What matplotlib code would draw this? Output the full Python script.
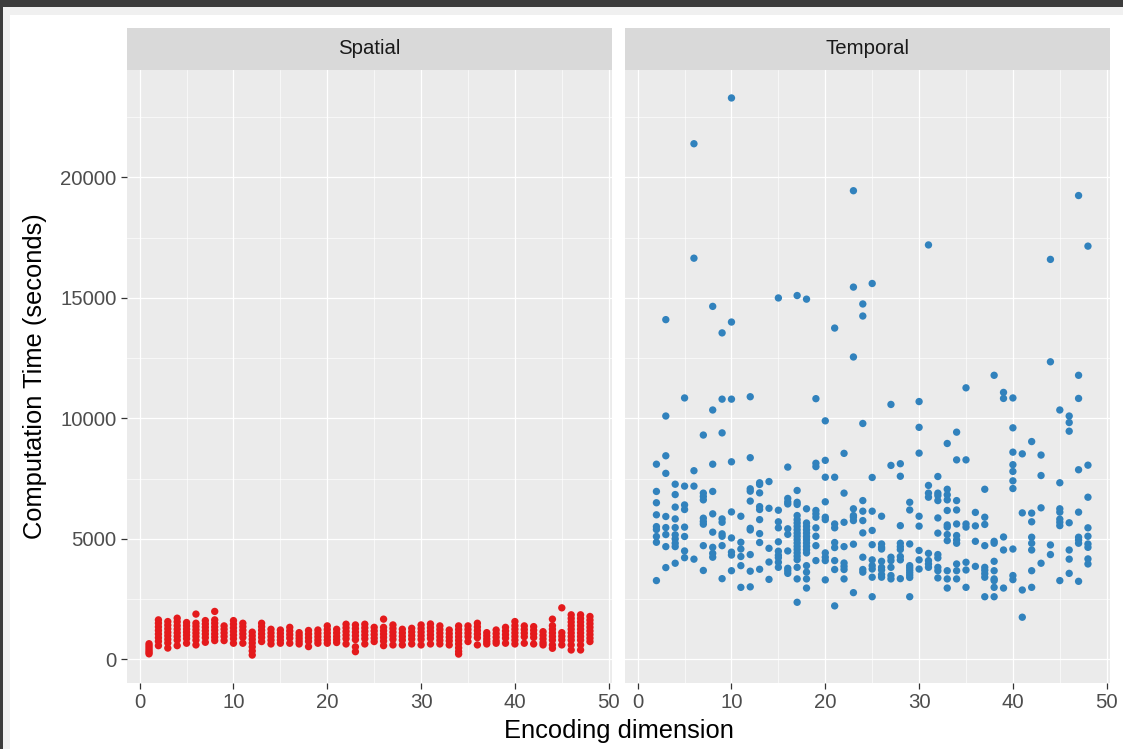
import matplotlib
matplotlib.use("Agg")
import matplotlib.pyplot as plt
from matplotlib.patches import Rectangle

plt.rcParams['font.family'] = ['Liberation Sans', 'DejaVu Sans']

# ---------------- data ----------------
panel_titles = ["Spatial", "Temporal"]
x_title = "Encoding dimension"
y_title = "Computation Time (seconds)"
x_ticks = [0, 10, 20, 30, 40, 50]
x_minor = [5, 15, 25, 35, 45]
y_ticks = [0, 5000, 10000, 15000, 20000]
y_minor = [2500, 7500, 12500, 17500, 22500]

spatial_dims = [1, 2, 3, 4, 5, 6, 7, 8, 9, 10, 11, 12, 13, 14, 15, 16,
                17, 18, 19, 20, 21, 22, 23, 24, 25, 26, 27, 28, 29, 30, 31, 32,
                33, 34, 35, 36, 37, 38, 39, 40, 41, 42, 43, 44, 45, 46, 47, 48]
spatial_times = [
    [650, 560, 470, 380, 300, 230],
    [1640, 1500, 1350, 1200, 1050, 900, 750, 570],
    [1570, 1420, 1270, 1120, 980, 830, 680, 470],
    [1710, 1560, 1400, 1250, 1100, 950, 800, 570],
    [1530, 1400, 1260, 1130, 1000, 860, 670],
    [1880, 1500, 1370, 1230, 1090, 950, 800, 600],
    [1610, 1470, 1330, 1190, 1050, 900, 710],
    [1990, 1640, 1500, 1350, 1210, 1060, 920, 780],
    [1390, 1250, 1100, 950, 780],
    [1610, 1460, 1310, 1160, 1010, 860, 670],
    [1500, 1360, 1210, 1060, 910, 670],
    [1130, 980, 830, 680, 520, 350, 180],
    [1500, 1360, 1210, 1060, 910, 740],
    [1250, 1100, 950, 800, 640],
    [1220, 1080, 940, 800, 670],
    [1330, 1180, 1030, 880, 670],
    [1110, 990, 870, 750, 640],
    [1200, 1050, 900, 750, 530],
    [1220, 1080, 940, 800, 670],
    [1390, 1240, 1090, 940, 800, 670],
    [1250, 1100, 950, 820, 700],
    [1460, 1310, 1160, 1010, 860, 640],
    [1430, 1280, 1130, 980, 820, 520, 320],
    [1460, 1310, 1160, 1010, 860, 640],
    [1330, 1180, 1030, 880, 740],
    [1670, 1330, 1190, 1050, 910, 760, 570],
    [1430, 1280, 1130, 980, 830, 600],
    [1250, 1100, 950, 800, 600],
    [1290, 1140, 990, 840, 640],
    [1430, 1280, 1130, 980, 830, 600],
    [1470, 1320, 1170, 1020, 870, 640],
    [1390, 1240, 1090, 940, 790, 640],
    [1220, 1070, 920, 770, 600],
    [1390, 1240, 1090, 940, 790, 640, 480, 330, 220],
    [1390, 1240, 1090, 940, 740],
    [1500, 1350, 1200, 1050, 900, 600],
    [1110, 980, 850, 740, 640],
    [1220, 1070, 920, 770, 670],
    [1330, 1180, 1030, 880, 670],
    [1570, 1400, 1250, 1100, 950, 800, 640],
    [1390, 1240, 1090, 940, 670],
    [1360, 1210, 1060, 910, 640],
    [1150, 1000, 850, 700, 600],
    [1670, 1400, 1250, 1100, 950, 800, 600, 460],
    [2140, 1110, 960, 810, 600],
    [1850, 1700, 1550, 1400, 1250, 1100, 950, 800, 600, 390],
    [1850, 1700, 1550, 1400, 1250, 1100, 950, 800, 600, 390],
    [1780, 1630, 1480, 1330, 1180, 1030, 880, 740],
]

temporal_dims = [2, 3, 4, 5, 6, 7, 8, 9, 10, 11, 12, 13, 14, 15, 16, 17,
                 18, 19, 20, 21, 22, 23, 24, 25, 26, 27, 28, 29, 30, 31, 32,
                 33, 34, 35, 36, 37, 38, 39, 40, 41, 42, 43, 44, 45, 46, 47, 48]
temporal_times = [
    [8100, 6970, 6500, 6000, 5510, 5390, 5100, 4860, 3270],
    [14100, 10100, 8450, 7720, 5930, 5470, 5180, 4680, 3810],
    [7270, 6840, 6320, 5830, 5470, 5170, 5000, 4820, 4680, 3990],
    [10850, 7190, 6410, 6220, 5490, 5100, 4500, 4220],
    [21400, 16650, 7830, 7190, 4160],
    [9310, 6900, 6760, 6620, 5860, 5720, 5610, 4720, 3690],
    [14650, 10350, 8100, 6970, 6040, 5280, 4650, 4400, 4240],
    [13550, 10800, 9400, 5830, 5690, 5210, 5110, 4720, 3350],
    [23300, 14000, 10800, 8200, 6120, 5040, 4450, 4330, 3680],
    [5940, 4860, 4580, 4270, 3890, 2990],
    [10900, 8370, 7080, 6980, 6570, 5440, 5370, 4350, 3660, 3010],
    [7330, 7260, 6910, 6340, 6220, 5800, 5220, 4850, 3740],
    [7380, 6270, 4610, 4040, 3320],
    [15000, 6190, 5710, 5460, 4880, 4490, 4320, 4220, 4030, 3820],
    [7980, 6680, 6540, 6450, 5420, 5190, 4500, 3780, 3680, 3570],
    [15100, 7010, 6520, 6430, 5970, 5800, 5660, 5520, 5380, 5240, 5110,
     4970, 4830, 4690, 4560, 4420, 4280, 4140, 3820, 3340, 2370],
    [14950, 6250, 5660, 5520, 5380, 5240, 5100, 4970, 4830, 4690, 4550,
     4420, 3890, 3620, 3340, 2960],
    [10820, 8140, 8000, 6180, 6040, 5900, 5460, 5110, 4720, 4100],
    [9900, 8260, 7560, 6540, 5900, 5800, 4420, 4240, 4100, 3300],
    [13750, 7560, 5620, 5460, 4850, 4640, 4100, 3730, 2220],
    [8550, 6900, 5690, 4680, 4000, 3860, 3730, 3340],
    [19450, 15450, 12550, 6250, 5970, 5900, 5760, 4780, 2770],
    [14750, 14250, 9790, 6590, 6150, 5760, 5250, 4240, 3730, 3620],
    [15600, 7550, 6150, 5350, 4760, 4130, 3890, 3750, 3410, 2600],
    [5940, 4790, 4650, 4580, 4070, 3820, 3710, 3520, 3410],
    [10580, 8050, 4240, 4100, 3820, 3480, 3340],
    [8120, 7600, 5550, 4820, 4680, 4560, 4270, 4130, 3350],
    [6520, 6200, 4790, 3890, 3800, 3700, 3600, 3500, 3400, 2600],
    [10700, 9630, 8560, 5940, 5530, 4520, 4130, 3750],
    [17200, 7220, 6900, 6730, 4400, 4100, 3960, 3820],
    [7590, 6900, 6800, 6590, 5870, 5240, 4350, 4210, 3820, 3680, 3380],
    [8960, 7060, 6830, 6620, 6180, 5580, 5490, 5180, 4930, 3680, 3340, 2960],
    [9430, 8280, 6590, 6200, 5620, 5140, 4960, 4820, 3960, 3680, 3340],
    [11270, 8280, 5620, 5490, 4030, 3710, 2990],
    [6100, 5540, 4900, 3860],
    [7060, 5900, 5600, 4720, 3820, 3700, 3560, 3410, 2600],
    [11790, 4900, 4820, 4070, 3680, 3340, 3270, 2990, 2600],
    [11080, 10830, 5080, 4540, 2960],
    [10850, 9610, 8600, 8080, 7800, 7410, 7090, 4580, 3480, 3310],
    [8530, 6080, 2880, 1750],
    [9040, 6070, 5710, 5070, 4820, 4540, 3680, 2990],
    [8480, 7630, 6290, 3990],
    [16600, 12350, 4750, 4350],
    [10350, 7330, 6250, 6110, 5820, 5690, 5550, 3270],
    [10100, 9830, 9470, 5670, 4540, 4160, 3570],
    [19250, 11790, 10830, 7870, 6110, 5070, 4960, 4820, 3240],
    [17150, 8060, 6730, 5460, 5110, 4790, 4650, 4170, 3960],
]

spatial_color = "#E41A1C"
temporal_color = "#3182BD"

# ---------------- figure ----------------
W, H = 1123, 749
fig = plt.figure(figsize=(W / 100, H / 100), dpi=100)
fig.patch.set_facecolor("white")


def frac(x0, y0, w, h):
    return [x0 / W, 1 - (y0 + h) / H, w / W, h / H]


# screenshot frame
for (x0, y0, w, h, c) in [(0, 7, 10, 742, "#F0F0F0"), (0, 7, 1123, 8, "#F0F0F0"),
                          (0, 0, 1123, 7, "#3C3C3C"), (0, 0, 3, 749, "#3C3C3C")]:
    fig.patches.append(Rectangle((x0 / W, 1 - (y0 + h) / H), w / W, h / H,
                                 transform=fig.transFigure, facecolor=c,
                                 edgecolor="none", zorder=0))

panels = [
    (127, panel_titles[0], spatial_dims, spatial_times, spatial_color, True),
    (625, panel_titles[1], temporal_dims, temporal_times, temporal_color, False),
]

for left, title, dims, times, color, show_y in panels:
    ax = fig.add_axes(frac(left, 70, 485, 613))
    ax.set_facecolor("#EBEBEB")
    for sp in ax.spines.values():
        sp.set_visible(False)
    ax.set_xlim(-1.35, 50.35)
    ax.set_ylim(-980, 24460)
    ax.set_xticks(x_ticks)
    ax.set_xticks(x_minor, minor=True)
    ax.set_yticks(y_ticks)
    ax.set_yticks(y_minor, minor=True)
    ax.set_yticklabels([str(v) for v in y_ticks])
    ax.grid(which="major", color="white", linewidth=0.9)
    ax.grid(which="minor", color="white", linewidth=0.45)
    ax.set_axisbelow(True)
    ax.tick_params(which="minor", length=0)
    ax.tick_params(which="major", length=4.5, width=0.9, color="#333333",
                   labelcolor="#4D4D4D", labelsize=14.7)
    ax.tick_params(axis="x", pad=2.5)
    ax.tick_params(axis="y", pad=3)
    if not show_y:
        ax.tick_params(axis="y", left=False, labelleft=False)
    for d, vals in zip(dims, times):
        ax.scatter([d] * len(vals), vals, s=28, color=color,
                   edgecolors="none", zorder=3)

    sax = fig.add_axes(frac(left, 28, 485, 42))
    sax.set_facecolor("#D9D9D9")
    for sp in sax.spines.values():
        sp.set_visible(False)
    sax.set_xticks([])
    sax.set_yticks([])
    sax.text(0.5, 0.5, title, ha="center", va="center", fontsize=14.7,
             color="#1A1A1A", transform=sax.transAxes)

fig.text(618.5 / W, 1 - 731 / H, x_title, ha="center", va="center",
         fontsize=18.4, color="black")
fig.text(35 / W, 1 - 376 / H, y_title, ha="center", va="center",
         rotation=90, fontsize=18.4, color="black")

fig.savefig("out.png", dpi=100)
